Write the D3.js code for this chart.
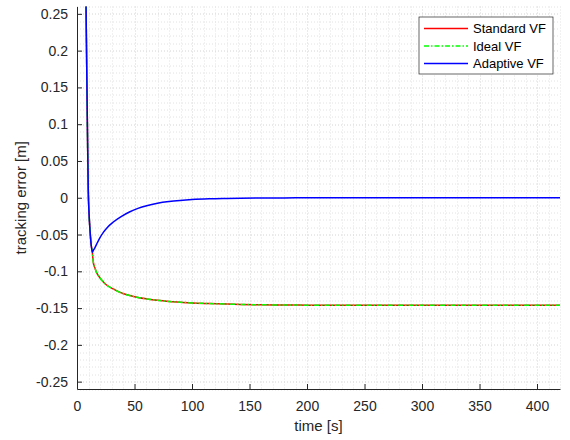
<!DOCTYPE html>
<html>
<head>
<meta charset="utf-8">
<script src="https://cdn.jsdelivr.net/npm/d3@7"></script>
<style>
  body { margin: 0; background: #fff; }
  svg { display: block; font-family: "Liberation Sans", Arial, sans-serif; }
</style>
</head>
<body>
<div id="chart"></div>
<script>
// ---- data ----
var timeS = [7, 7.8, 8.5, 9.3, 9.8, 10.5, 11.3, 12.2, 13.3, 14.2, 15.5, 17.1, 19.5, 22.9, 26, 31.6, 38, 46, 53, 60.6,
             70, 80, 89.6, 100, 115, 130, 142, 160, 180, 200, 250, 300, 350, 420];
var standardVF = [0.36, 0.27, 0.17, 0.065, 0.01, -0.022, -0.044, -0.062, -0.074, -0.088, -0.095, -0.102, -0.108, -0.1145,
                  -0.119, -0.124, -0.129, -0.133, -0.1355, -0.1375, -0.1395, -0.141, -0.142, -0.143, -0.1438, -0.1445,
                  -0.145, -0.1455, -0.1458, -0.146, -0.146, -0.146, -0.146, -0.146];
var idealVF = [0.36, 0.27, 0.17, 0.065, 0.01, -0.022, -0.044, -0.062, -0.074, -0.088, -0.095, -0.102, -0.108, -0.1145,
               -0.119, -0.124, -0.129, -0.133, -0.1355, -0.1375, -0.1395, -0.141, -0.142, -0.143, -0.1438, -0.1445,
               -0.145, -0.1455, -0.1458, -0.146, -0.146, -0.146, -0.146, -0.146];
var adaptiveVF = [0.36, 0.27, 0.17, 0.065, 0.01, -0.022, -0.044, -0.062, -0.074, -0.0715, -0.068, -0.063, -0.0555, -0.047,
                  -0.041, -0.033, -0.026, -0.019, -0.0145, -0.0108, -0.0075, -0.0052, -0.0037, -0.0025, -0.0015, -0.001,
                  -0.0007, -0.0004, -0.0002, -0.0001, 0, 0, 0, 0];
var xTicks = [0, 50, 100, 150, 200, 250, 300, 350, 400];
var yTicks = [-0.25, -0.2, -0.15, -0.1, -0.05, 0, 0.05, 0.1, 0.15, 0.2, 0.25];
var seriesNames = ["Standard VF", "Ideal VF", "Adaptive VF"];

// ---- layout ----
var W = 570, H = 440;
var margin = {top: 6.5, right: 10, bottom: 51, left: 77},
    width = W - margin.left - margin.right,
    height = H - margin.top - margin.bottom;
var axisCol = "#262626";

var svg = d3.select("#chart").append("svg")
    .attr("width", W).attr("height", H);
var g = svg.append("g")
    .attr("transform", "translate(" + margin.left + "," + margin.top + ")");

var x = d3.scaleLinear().domain([0, 420]).range([0, width]);
var y = d3.scaleLinear().domain([-0.26, 0.26]).range([height, 0]);

// Minor grid (every 10 s and every 0.01 m), major lines a touch darker
var xMinor = d3.range(0, 421, 10);
var yMinor = d3.range(-26, 27, 1).map(function(d) { return d / 100; });
var grid = g.append("g");
grid.selectAll(".vmin").data(xMinor).enter().append("line")
    .attr("x1", function(d) { return Math.round(x(d)) + 0.5; })
    .attr("x2", function(d) { return Math.round(x(d)) + 0.5; })
    .attr("y1", 0).attr("y2", height)
    .attr("stroke", function(d) { return d % 50 === 0 ? "#d4d4d4" : "#e2e2e2"; })
    .attr("stroke-width", 1)
    .attr("stroke-dasharray", "1,2");
grid.selectAll(".hmin").data(yMinor).enter().append("line")
    .attr("y1", function(d) { return Math.round(y(d)) + 0.5; })
    .attr("y2", function(d) { return Math.round(y(d)) + 0.5; })
    .attr("x1", 0).attr("x2", width)
    .attr("stroke", function(d) { return Math.abs(Math.round(d * 100)) % 5 === 0 ? "#d4d4d4" : "#e2e2e2"; })
    .attr("stroke-width", 1)
    .attr("stroke-dasharray", "1,2");

// Clip for lines
svg.append("defs").append("clipPath").attr("id", "plotclip")
  .append("rect").attr("x", 0).attr("y", 0).attr("width", width).attr("height", height);

function makeLine(vals) {
    return d3.line()
        .x(function(d, i) { return x(timeS[i]); })
        .y(function(d) { return y(d); })
        .curve(d3.curveMonotoneX)(vals);
}

var lines = g.append("g").attr("clip-path", "url(#plotclip)");
lines.append("path").attr("d", makeLine(standardVF))
    .attr("fill", "none").attr("stroke", "#ff0000").attr("stroke-width", 1.5);
lines.append("path").attr("d", makeLine(idealVF))
    .attr("fill", "none").attr("stroke", "#00ff00").attr("stroke-width", 1.5)
    .attr("stroke-dasharray", "5,2,1.5,2");
lines.append("path").attr("d", makeLine(adaptiveVF))
    .attr("fill", "none").attr("stroke", "#0000ff").attr("stroke-width", 1.5);

// Axes (ticks pointing inward, MATLAB style)
var xAxis = g.append("g")
    .attr("transform", "translate(0," + height + ")")
    .call(d3.axisBottom(x).tickValues(xTicks).tickSizeInner(-5).tickSizeOuter(0).tickPadding(12)
        .tickFormat(d3.format("d")));
var yAxis = g.append("g")
    .call(d3.axisLeft(y).tickValues(yTicks).tickSizeInner(-5).tickSizeOuter(0).tickPadding(9)
        .tickFormat(function(d) { return d === 0 ? "0" : String(+d.toFixed(2)); }));
[xAxis, yAxis].forEach(function(a) {
    a.select(".domain").attr("stroke", axisCol).attr("stroke-width", 1);
    a.selectAll(".tick line").attr("stroke", axisCol);
    a.selectAll(".tick text").attr("fill", axisCol)
        .attr("font-size", "14px").attr("font-family", "Liberation Sans, Arial, sans-serif");
});

// Axis labels
svg.append("text")
    .attr("x", margin.left + x(210)).attr("y", 431)
    .attr("text-anchor", "middle").attr("fill", axisCol).attr("font-size", "15px")
    .text("time [s]");
svg.append("text")
    .attr("transform", "translate(26," + (margin.top + y(0)) + ") rotate(-90)")
    .attr("text-anchor", "middle").attr("fill", axisCol).attr("font-size", "15px")
    .text("tracking error [m]");

// Legend
var legend = svg.append("g").attr("transform", "translate(419,17)");
legend.append("rect")
    .attr("width", 134).attr("height", 57)
    .attr("fill", "#fff").attr("stroke", axisCol).attr("stroke-width", 0.7);
var legStyles = [
    {c: "#ff0000", dash: null},
    {c: "#00ff00", dash: "5,2,1.5,2"},
    {c: "#0000ff", dash: null}
];
seriesNames.forEach(function(name, i) {
    var ly = 11.5 + i * 17.5;
    legend.append("line")
        .attr("x1", 5).attr("x2", 49).attr("y1", ly).attr("y2", ly)
        .attr("stroke", legStyles[i].c).attr("stroke-width", 1.5)
        .attr("stroke-dasharray", legStyles[i].dash);
    legend.append("text")
        .attr("x", 54).attr("y", ly + 4.5)
        .attr("fill", "#000").attr("font-size", "13px")
        .text(name);
});
</script>
</body>
</html>
